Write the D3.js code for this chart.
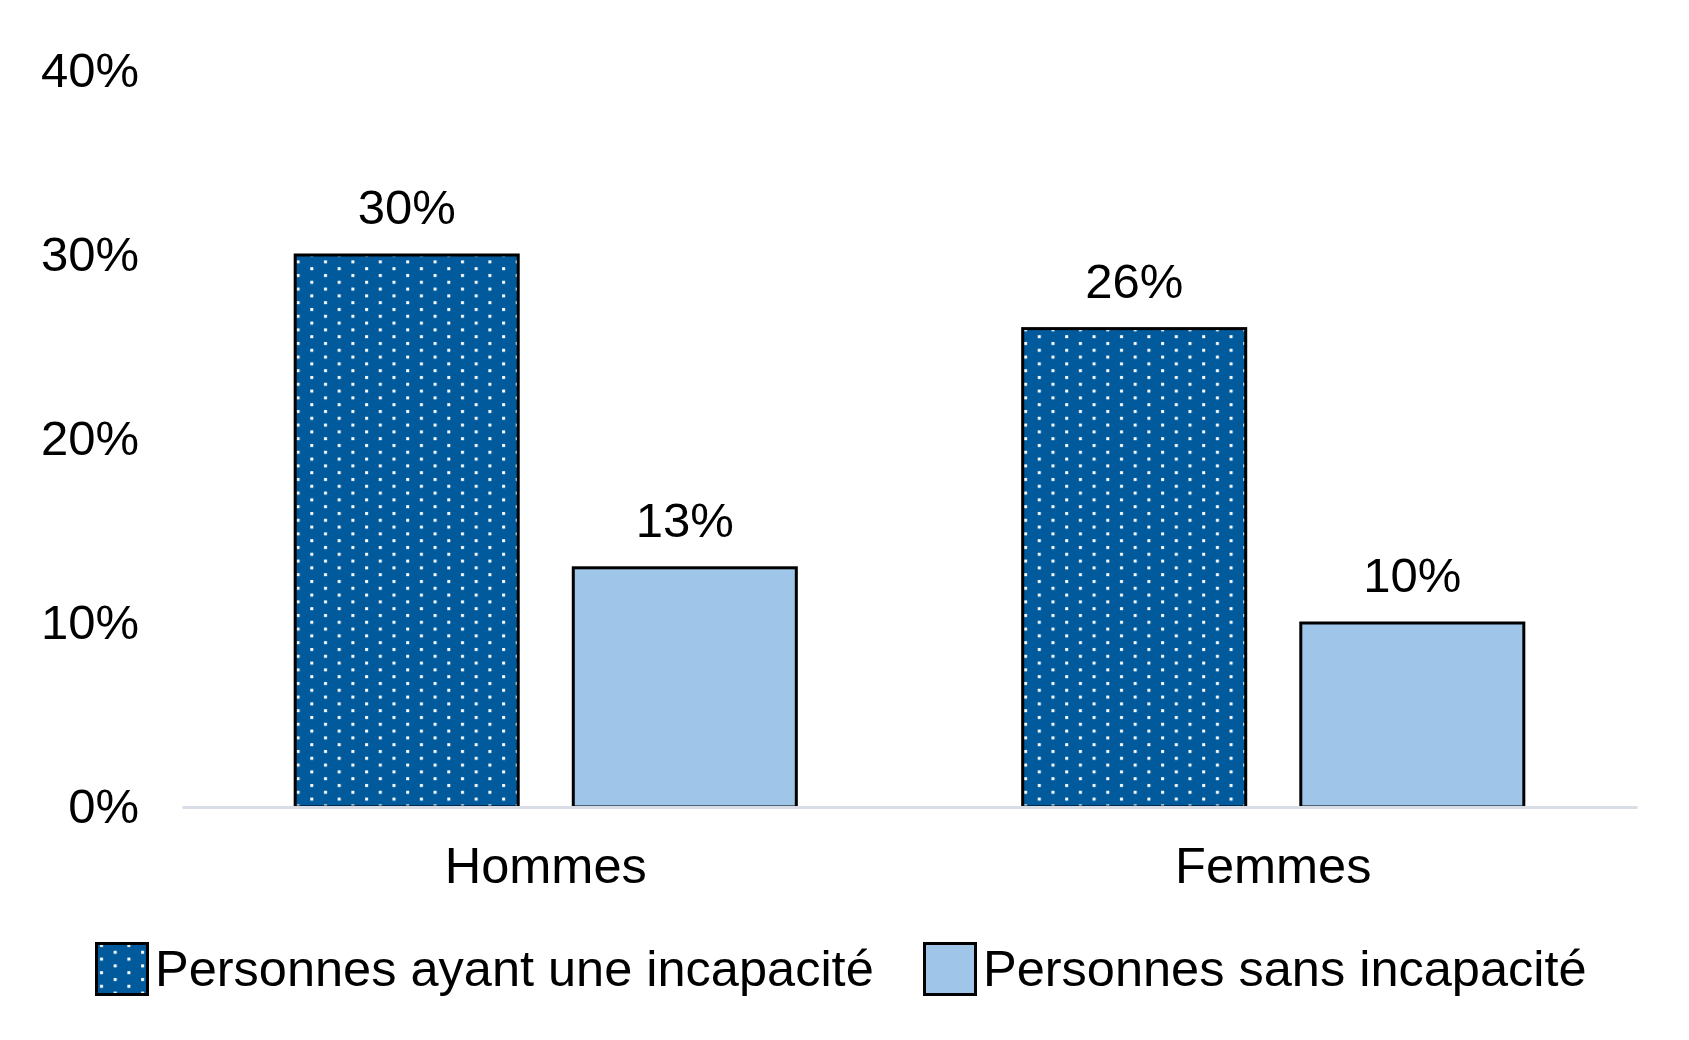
<!DOCTYPE html>
<html>
<head>
<meta charset="utf-8">
<script src="https://cdn.jsdelivr.net/npm/d3@7"></script>
<style>
  body { margin: 0; background: #fff; }
  text { font-family: "Liberation Sans", Arial, sans-serif; fill: #000; }
</style>
</head>
<body>
<div id="chart"></div>
<script>
// data
var categories = ["Hommes", "Femmes"];
var seriesKeys = ["avec", "sans"];
var seriesNames = ["Personnes ayant une incapacité", "Personnes sans incapacité"];
var avecIncapacite = [30, 26];
var sansIncapacite = [13, 10];
var yTicks = [0, 10, 20, 30, 40];

var width = 1689, height = 1040;
var darkBlue = "#005A9C", lightBlue = "#9FC5E8";

var svg = d3.select("#chart").append("svg")
    .attr("width", width)
    .attr("height", height);

// dotted fill for the first series
var defs = svg.append("defs");
var pat = defs.append("pattern")
    .attr("id", "dots")
    .attr("patternUnits", "userSpaceOnUse")
    .attr("width", 27.4)
    .attr("height", 13.6);
pat.append("rect").attr("width", 27.4).attr("height", 13.6).attr("fill", darkBlue);
pat.append("rect").attr("x", 5).attr("y", 2).attr("width", 3).attr("height", 3).attr("fill", "#fff");
pat.append("rect").attr("x", 18.7).attr("y", 8.8).attr("width", 3).attr("height", 3).attr("fill", "#fff");

var x0 = d3.scaleBand().domain(categories).range([182, 1637]);
var x1 = d3.scaleBand().domain(seriesKeys).range([0, x0.bandwidth()])
    .paddingInner(0.198).paddingOuter(0.407);
var y = d3.scaleLinear().domain([0, 40]).range([807, 71]);

var fills = { avec: "url(#dots)", sans: lightBlue };

// y axis labels
var yAxis = svg.append("g")
    .attr("transform", "translate(139,0)")
    .call(d3.axisLeft(y).tickValues(yTicks).tickFormat(function(d) { return d + "%"; })
        .tickSize(0).tickPadding(0));
yAxis.select(".domain").remove();
yAxis.selectAll("text")
    .attr("font-size", 49)
    .attr("font-family", "Liberation Sans, Arial, sans-serif")
    .attr("fill", "#000");

// bars
var rows = categories.map(function(c, i) {
    return { cat: c, values: [
        { key: "avec", value: avecIncapacite[i] },
        { key: "sans", value: sansIncapacite[i] }
    ] };
});

var groups = svg.selectAll(".grp").data(rows).enter().append("g")
    .attr("class", "grp")
    .attr("transform", function(d) { return "translate(" + x0(d.cat) + ",0)"; });

groups.selectAll("rect").data(function(d) { return d.values; }).enter().append("rect")
    .attr("x", function(d) { return x1(d.key); })
    .attr("y", function(d) { return y(d.value); })
    .attr("width", x1.bandwidth())
    .attr("height", function(d) { return y(0) - y(d.value); })
    .attr("fill", function(d) { return fills[d.key]; })
    .attr("stroke", "#000")
    .attr("stroke-width", 3);

groups.selectAll(".val").data(function(d) { return d.values; }).enter().append("text")
    .attr("class", "val")
    .attr("x", function(d) { return x1(d.key) + x1.bandwidth() / 2; })
    .attr("y", function(d) { return y(d.value) - 31; })
    .attr("text-anchor", "middle")
    .attr("font-size", 49)
    .text(function(d) { return d.value + "%"; });

// category axis, its domain is the light zero line
var xAxis = svg.append("g")
    .attr("transform", "translate(0," + y(0) + ")")
    .call(d3.axisBottom(x0).tickSize(0).tickSizeOuter(0));
xAxis.select(".domain").attr("stroke", "#D9DDE6").attr("stroke-width", 3);
xAxis.selectAll("text")
    .attr("y", 76).attr("dy", 0)
    .attr("font-size", 50.5)
    .attr("font-family", "Liberation Sans, Arial, sans-serif")
    .attr("fill", "#000");

// legend
var legendItems = [
    { name: seriesNames[0], fill: fills.avec, x: 95 },
    { name: seriesNames[1], fill: lightBlue, x: 923 }
];
var leg = svg.selectAll(".leg").data(legendItems).enter().append("g")
    .attr("class", "leg")
    .attr("transform", function(d) { return "translate(" + d.x + ",942)"; });
leg.append("rect")
    .attr("x", 1.5).attr("y", 1.5)
    .attr("width", 51).attr("height", 51)
    .attr("fill", function(d) { return d.fill; })
    .attr("stroke", "#000")
    .attr("stroke-width", 3);
leg.append("text")
    .attr("x", 60)
    .attr("y", 44)
    .attr("font-size", 50.5)
    .text(function(d) { return d.name; });
</script>
</body>
</html>
